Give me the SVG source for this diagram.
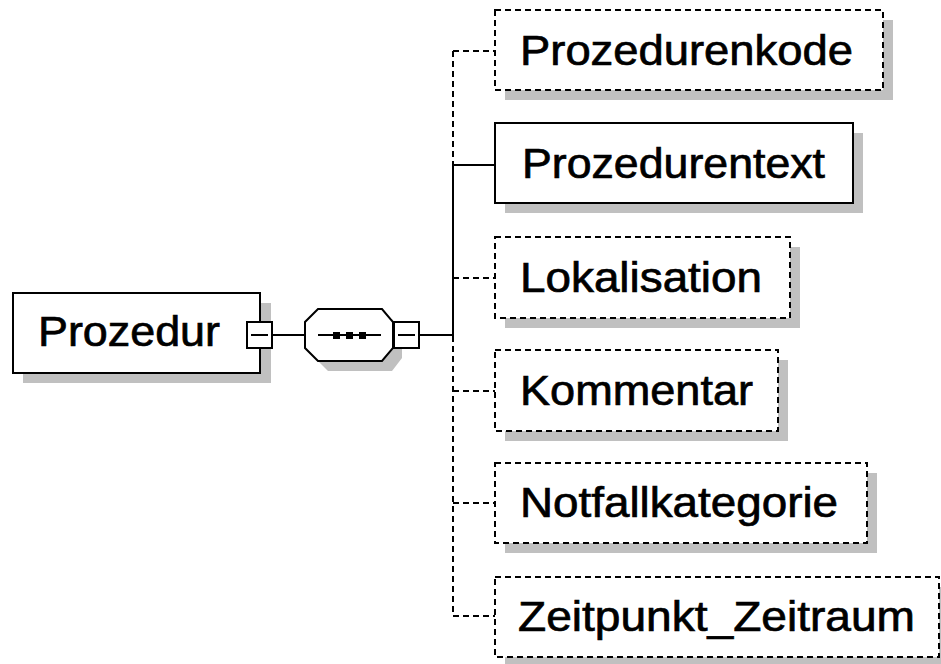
<svg xmlns="http://www.w3.org/2000/svg" width="941" height="664" viewBox="0 0 941 664">
<style>
.shadow{fill:#c0c0c0;stroke:none}
.box{fill:#fff;stroke:#000;stroke-width:2}
.opt{fill:#fff;stroke:#000;stroke-width:2;stroke-dasharray:6,4}
.lbl{font-family:"Liberation Sans",Arial,sans-serif;font-size:42px;fill:#000;stroke:#000;stroke-width:0.7}
.ln{stroke:#000;stroke-width:2;fill:none}
.dl{stroke:#000;stroke-width:2;fill:none;stroke-dasharray:6,4}
</style>
<rect width="941" height="664" fill="#fff"/>
<g id="connectors">
<line class="ln" x1="273" y1="335" x2="305" y2="335"/>
<line class="ln" x1="420" y1="335" x2="453" y2="335"/>
<line class="dl" x1="453" y1="51" x2="453" y2="165"/>
<line class="ln" x1="453" y1="165" x2="453" y2="336"/>
<line class="dl" x1="453" y1="336" x2="453" y2="616"/>
<line class="dl" x1="453" y1="51" x2="495" y2="51"/>
<line class="ln" x1="453" y1="165" x2="495" y2="165"/>
<line class="dl" x1="453" y1="278" x2="495" y2="278"/>
<line class="dl" x1="453" y1="391" x2="495" y2="391"/>
<line class="dl" x1="453" y1="503" x2="495" y2="503"/>
<line class="dl" x1="453" y1="616" x2="495" y2="616"/>
</g>
<g id="Prozedur">
<rect class="shadow" x="23" y="303" width="248" height="80"/>
<rect class="box" x="13" y="293" width="247" height="80"/>
<text class="lbl" x="38" y="346" textLength="182" lengthAdjust="spacingAndGlyphs">Prozedur</text>
<rect class="box" x="247" y="322" width="25" height="26"/>
<line class="ln" x1="251" y1="335" x2="268" y2="335"/>
</g>
<g id="sequence">
<polygon class="shadow" points="328,319 392,319 402,332 402,358 392,371 328,371 315,358 315,332"/>
<polygon class="box" points="318,309 382,309 393,322 393,348 382,361 318,361 305,348 305,322"/>
<line class="ln" x1="318" y1="335" x2="381" y2="335"/>
<rect x="333" y="332" width="7" height="7" fill="#000"/>
<rect x="346" y="332" width="7" height="7" fill="#000"/>
<rect x="359" y="332" width="7" height="7" fill="#000"/>
<rect class="box" x="394" y="322" width="25" height="26"/>
<line class="ln" x1="398" y1="335" x2="415" y2="335"/>
</g>
<g id="Prozedurenkode">
<rect class="shadow" x="505" y="20" width="388" height="80"/>
<rect class="opt" x="495" y="10" width="388" height="80"/>
<text class="lbl" x="520" y="65" textLength="333" lengthAdjust="spacingAndGlyphs">Prozedurenkode</text>
</g>
<g id="Prozedurentext">
<rect class="shadow" x="505" y="133" width="358" height="80"/>
<rect class="box" x="495" y="123" width="358" height="80"/>
<text class="lbl" x="522" y="178" textLength="303" lengthAdjust="spacingAndGlyphs">Prozedurentext</text>
</g>
<g id="Lokalisation">
<rect class="shadow" x="505" y="247" width="295" height="81"/>
<rect class="opt" x="495" y="237" width="295" height="81"/>
<text class="lbl" x="520" y="292" textLength="242" lengthAdjust="spacingAndGlyphs">Lokalisation</text>
</g>
<g id="Kommentar">
<rect class="shadow" x="505" y="360" width="283" height="81"/>
<rect class="opt" x="495" y="350" width="283" height="81"/>
<text class="lbl" x="520" y="405" textLength="233" lengthAdjust="spacingAndGlyphs">Kommentar</text>
</g>
<g id="Notfallkategorie">
<rect class="shadow" x="505" y="473" width="372" height="80"/>
<rect class="opt" x="495" y="463" width="372" height="80"/>
<text class="lbl" x="520" y="517" textLength="318" lengthAdjust="spacingAndGlyphs">Notfallkategorie</text>
</g>
<g id="Zeitpunkt_Zeitraum">
<rect class="shadow" x="505" y="587" width="445" height="80"/>
<rect class="opt" x="495" y="577" width="444" height="80"/>
<text class="lbl" x="518" y="631" textLength="397" lengthAdjust="spacingAndGlyphs">Zeitpunkt_Zeitraum</text>
</g>
</svg>
